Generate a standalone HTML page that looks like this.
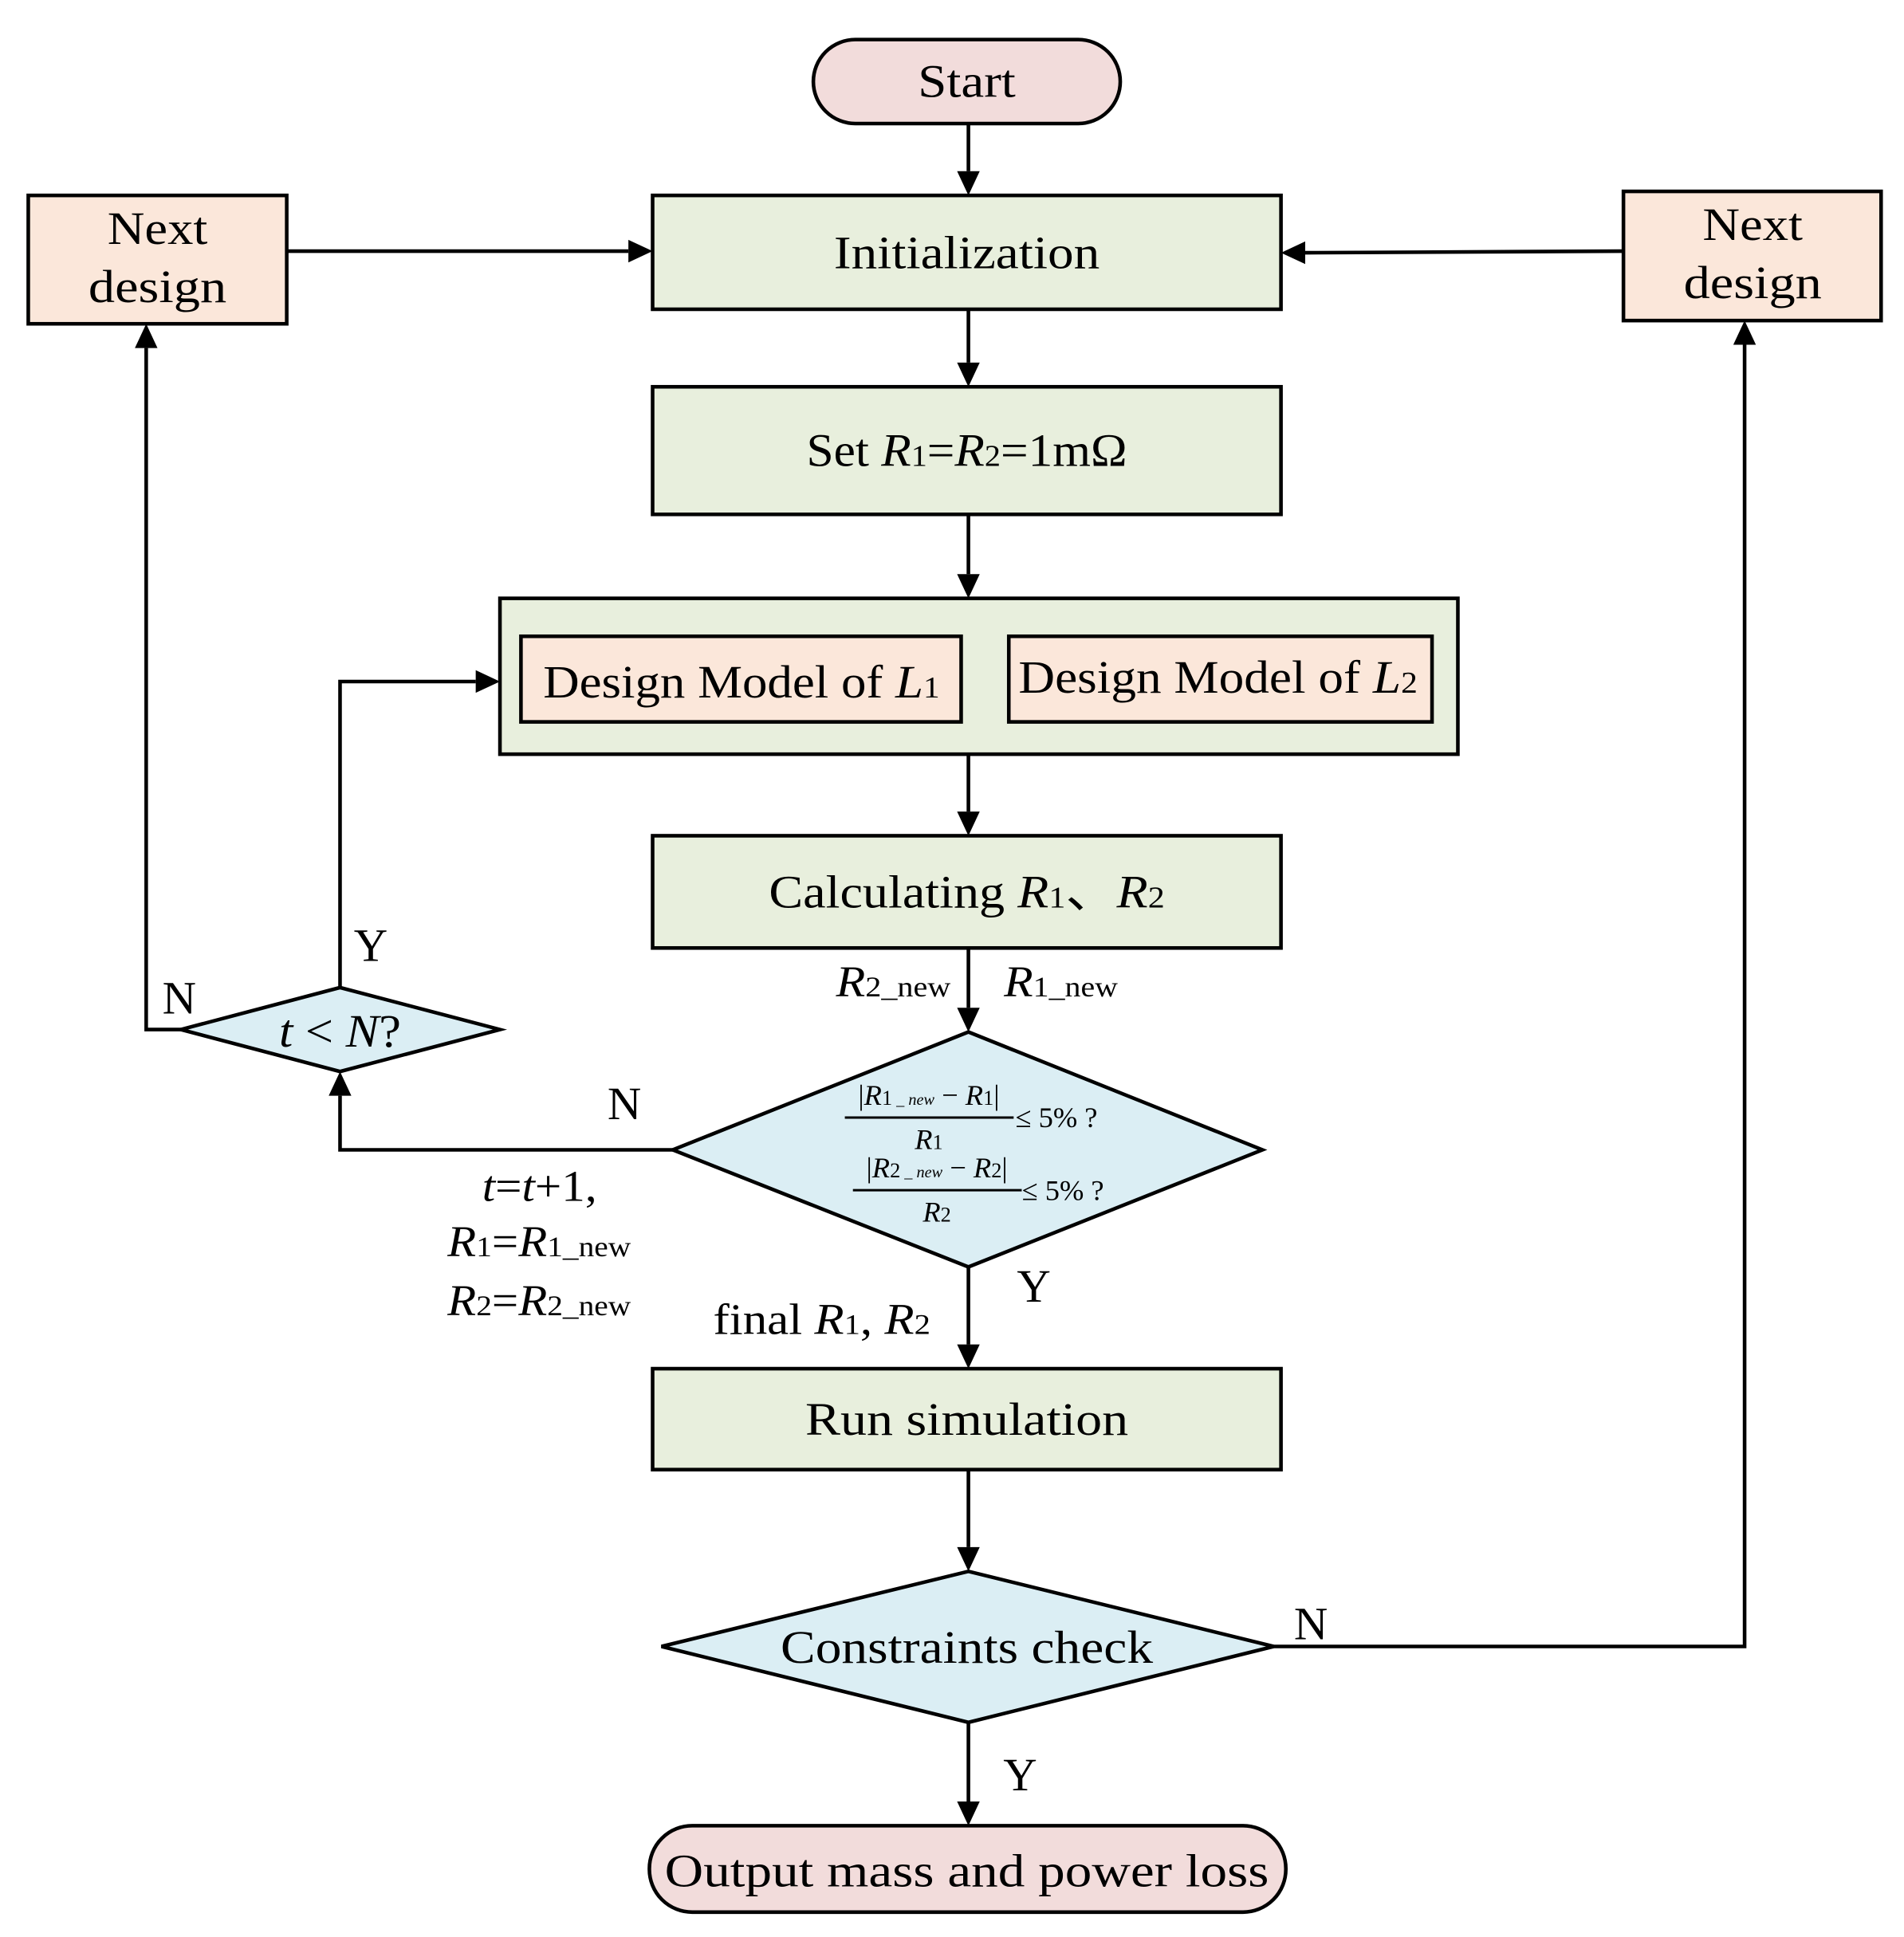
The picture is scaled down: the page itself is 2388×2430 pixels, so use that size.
<!DOCTYPE html>
<html><head><meta charset="utf-8"><style>
html,body{margin:0;padding:0;background:#fff}
svg{display:block}
text{font-family:"Liberation Serif",serif;fill:#000}
</style></head><body>
<svg width="2388" height="2430" viewBox="0 0 2388 2430" xmlns="http://www.w3.org/2000/svg">
<g transform="scale(1.013)">
<g stroke="#000" stroke-width="4.5" fill="none">
<rect x="1007" y="49" width="380" height="104" rx="52" fill="#f2dcdb"/>
<rect x="808" y="242" width="778" height="141" fill="#e8efdd"/>
<rect x="35" y="242" width="320" height="159" fill="#fbe7da"/>
<rect x="2010" y="237" width="319" height="160" fill="#fbe7da"/>
<rect x="808" y="479" width="778" height="158" fill="#e8efdd"/>
<rect x="619" y="741" width="1186" height="193" fill="#e8efdd"/>
<rect x="645" y="788" width="545" height="106" fill="#fbe7da"/>
<rect x="1249" y="788" width="524" height="106" fill="#fbe7da"/>
<rect x="808" y="1035" width="778" height="139" fill="#e8efdd"/>
<polygon points="224,1275 421,1223 619,1275 421,1327" fill="#dbeef4"/>
<polygon points="833,1424 1199,1278 1563,1424 1199,1569" fill="#dbeef4"/>
<rect x="808" y="1695" width="778" height="125" fill="#e8efdd"/>
<polygon points="819,2039 1199,1946 1577,2039 1199,2133" fill="#dbeef4"/>
<rect x="804" y="2261" width="788" height="107" rx="53" fill="#f2dcdb"/>
<line x1="1199" y1="153" x2="1199" y2="212"/>
<line x1="1199" y1="383" x2="1199" y2="449"/>
<line x1="1199" y1="637" x2="1199" y2="711"/>
<line x1="1199" y1="934" x2="1199" y2="1005"/>
<line x1="1199" y1="1174" x2="1199" y2="1248"/>
<line x1="1199" y1="1569" x2="1199" y2="1665"/>
<line x1="1199" y1="1820" x2="1199" y2="1916"/>
<line x1="1199" y1="2133" x2="1199" y2="2231"/>
<line x1="355" y1="311" x2="778" y2="311"/>
<line x1="2010" y1="311" x2="1616" y2="313"/>
<polyline points="224,1275 181,1275 181,431"/>
<polyline points="421,1223 421,844 589,844"/>
<polyline points="833,1424 421,1424 421,1357"/>
<polyline points="1577,2039 2160,2039 2160,427"/>
<line x1="1046" y1="1384" x2="1255" y2="1384" stroke-width="3"/>
<line x1="1056" y1="1474" x2="1265" y2="1474" stroke-width="3"/>
</g>
<g fill="#000">
<polygon points="1185,212 1213,212 1199,242"/>
<polygon points="1185,449 1213,449 1199,479"/>
<polygon points="1185,711 1213,711 1199,741"/>
<polygon points="1185,1005 1213,1005 1199,1035"/>
<polygon points="1185,1248 1213,1248 1199,1278"/>
<polygon points="1185,1665 1213,1665 1199,1695"/>
<polygon points="1185,1916 1213,1916 1199,1946"/>
<polygon points="1185,2231 1213,2231 1199,2261"/>
<polygon points="778,297 778,325 808,311"/>
<polygon points="1616,299 1616,327 1586,313"/>
<polygon points="167,431 195,431 181,401"/>
<polygon points="589,830 589,858 619,844"/>
<polygon points="407,1357 435,1357 421,1327"/>
<polygon points="2146,427 2174,427 2160,397"/>
</g>
<g font-size="58" text-anchor="middle" lengthAdjust="spacingAndGlyphs">
<text x="1197" y="120" textLength="121" lengthAdjust="spacingAndGlyphs">Start</text>
<text x="1197" y="332" textLength="329" lengthAdjust="spacingAndGlyphs">Initialization</text>
<text x="195" y="302" textLength="124" lengthAdjust="spacingAndGlyphs">Next</text>
<text x="195" y="374" textLength="171" lengthAdjust="spacingAndGlyphs">design</text>
<text x="2170" y="297" textLength="124" lengthAdjust="spacingAndGlyphs">Next</text>
<text x="2170" y="369" textLength="171" lengthAdjust="spacingAndGlyphs">design</text>
<text x="1197" y="577" textLength="397" lengthAdjust="spacingAndGlyphs">Set <tspan font-style="italic">R</tspan><tspan font-size="38">1</tspan>=<tspan font-style="italic">R</tspan><tspan font-size="38">2</tspan>=1mΩ</text>
<text x="918" y="864" textLength="491" lengthAdjust="spacingAndGlyphs">Design Model of <tspan font-style="italic">L</tspan><tspan font-size="38">1</tspan></text>
<text x="1508" y="858" textLength="494" lengthAdjust="spacingAndGlyphs">Design Model of <tspan font-style="italic">L</tspan><tspan font-size="38">2</tspan></text>
<text x="1197" y="1124" textLength="490" lengthAdjust="spacingAndGlyphs">Calculating <tspan font-style="italic">R</tspan><tspan font-size="38">1</tspan>、<tspan font-style="italic">R</tspan><tspan font-size="38">2</tspan></text>
<text x="421" y="1296" textLength="151" lengthAdjust="spacingAndGlyphs"><tspan font-style="italic">t</tspan> &lt; <tspan font-style="italic">N</tspan>?</text>
<text x="1197" y="1777" textLength="400" lengthAdjust="spacingAndGlyphs">Run simulation</text>
<text x="1197" y="2059" textLength="461" lengthAdjust="spacingAndGlyphs">Constraints check</text>
<text x="1197" y="2336" textLength="748" lengthAdjust="spacingAndGlyphs">Output mass and power loss</text>
<text x="222" y="1255">N</text>
<text x="459" y="1190">Y</text>
<text x="773" y="1386">N</text>
<text x="1280" y="1612">Y</text>
<text x="1623" y="2030">N</text>
<text x="1263" y="2217">Y</text>
</g>
<g font-size="54">
<text x="1035" y="1234" textLength="142" lengthAdjust="spacingAndGlyphs"><tspan font-style="italic">R</tspan><tspan font-size="36">2_new</tspan></text>
<text x="1243" y="1234" textLength="141" lengthAdjust="spacingAndGlyphs"><tspan font-style="italic">R</tspan><tspan font-size="36">1_new</tspan></text>
<text x="597" y="1487" textLength="142" lengthAdjust="spacingAndGlyphs"><tspan font-style="italic">t</tspan>=<tspan font-style="italic">t</tspan>+1,</text>
<text x="554" y="1556" textLength="227" lengthAdjust="spacingAndGlyphs"><tspan font-style="italic">R</tspan><tspan font-size="36">1</tspan>=<tspan font-style="italic">R</tspan><tspan font-size="36">1_new</tspan></text>
<text x="554" y="1629" textLength="227" lengthAdjust="spacingAndGlyphs"><tspan font-style="italic">R</tspan><tspan font-size="36">2</tspan>=<tspan font-style="italic">R</tspan><tspan font-size="36">2_new</tspan></text>
<text x="883" y="1652" textLength="269" lengthAdjust="spacingAndGlyphs">final <tspan font-style="italic">R</tspan><tspan font-size="36">1</tspan>, <tspan font-style="italic">R</tspan><tspan font-size="36">2</tspan></text>
</g>
<g font-size="36" text-anchor="middle">
<text x="1150" y="1368">|<tspan font-style="italic">R</tspan><tspan font-size="26">1</tspan><tspan font-size="20" font-style="italic"> _ new</tspan> − <tspan font-style="italic">R</tspan><tspan font-size="26">1</tspan>|</text>
<text x="1150" y="1423"><tspan font-style="italic">R</tspan><tspan font-size="26">1</tspan></text>
<text x="1308" y="1396">≤ 5% ?</text>
<text x="1160" y="1458">|<tspan font-style="italic">R</tspan><tspan font-size="26">2</tspan><tspan font-size="20" font-style="italic"> _ new</tspan> − <tspan font-style="italic">R</tspan><tspan font-size="26">2</tspan>|</text>
<text x="1160" y="1513"><tspan font-style="italic">R</tspan><tspan font-size="26">2</tspan></text>
<text x="1316" y="1486">≤ 5% ?</text>
</g>
</g>
</svg>
</body></html>
